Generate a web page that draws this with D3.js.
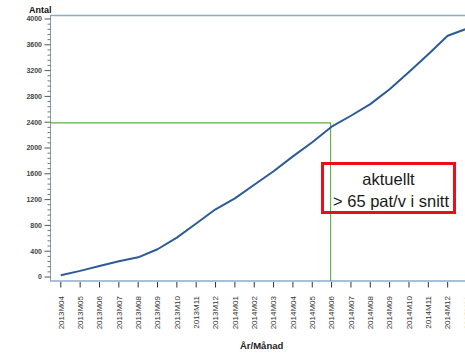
<!DOCTYPE html>
<html><head><meta charset="utf-8">
<script src="https://cdn.jsdelivr.net/npm/d3@7"></script>
<style>
html,body{margin:0;padding:0;background:#fff;}
svg{display:block;font-family:"Liberation Sans",Arial,sans-serif;}
</style></head><body>
<svg id="c" width="465" height="353"></svg>
<script>
const months = ["2013M04","2013M05","2013M06","2013M07","2013M08","2013M09","2013M10","2013M11","2013M12",
  "2014M01","2014M02","2014M03","2014M04","2014M05","2014M06","2014M07","2014M08","2014M09","2014M10","2014M11","2014M12","2015M01"];
const antal = [28,95,170,245,305,430,610,830,1050,1220,1430,1640,1870,2090,2330,2500,2680,2910,3180,3455,3740,3850];
const yTicks = [0,400,800,1200,1600,2000,2400,2800,3200,3600,4000];
const markerValue = 2390;
const markerMonth = "2014M06";
const noteLines = ["aktuellt","> 65 pat/v i snitt"];

const svg = d3.select("#c");
const x = d3.scalePoint().domain(months).range([60.8, 467]);
const y = d3.scaleLinear().domain([0,4000]).range([277, 19]);

// top frame line
svg.append("line").attr("x1",50.5).attr("x2",465).attr("y1",15.5).attr("y2",15.5)
  .attr("stroke","#8eaacb").attr("stroke-width",1.6);

// y axis
const ya = svg.append("g").attr("transform","translate(50.5,0)");
ya.append("line").attr("y1",15).attr("y2",281).attr("stroke","#8a9bb0").attr("stroke-width",1);
const minor = d3.range(0,4001,80).filter(v=>v%400!==0);
ya.selectAll("line.mi").data(minor).join("line").attr("class","mi")
  .attr("x1",-3).attr("x2",0).attr("y1",d=>y(d)).attr("y2",d=>y(d)).attr("stroke","#555").attr("stroke-width",0.8);
ya.selectAll("line.ma").data(yTicks).join("line").attr("class","ma")
  .attr("x1",-6).attr("x2",0).attr("y1",d=>y(d)).attr("y2",d=>y(d)).attr("stroke","#444").attr("stroke-width",0.9);
ya.selectAll("text").data(yTicks).join("text")
  .attr("x",-8.5).attr("y",d=>y(d)).attr("dy","0.35em").attr("text-anchor","end")
  .attr("font-size",7).attr("font-weight","bold").attr("fill","#444").text(d=>d);

svg.append("text").attr("x",29).attr("y",13).attr("font-size",9).attr("font-weight","bold")
  .attr("fill","#111").text("Antal");

// x axis
const xa = svg.append("g");
xa.append("line").attr("x1",50).attr("x2",465).attr("y1",281).attr("y2",281)
  .attr("stroke","#8eaacb").attr("stroke-width",1.4);
xa.selectAll("line.t").data(months).join("line").attr("class","t")
  .attr("x1",d=>x(d)).attr("x2",d=>x(d)).attr("y1",282).attr("y2",287.5)
  .attr("stroke","#333").attr("stroke-width",1);
xa.selectAll("text").data(months).join("text")
  .attr("transform",d=>`translate(${x(d)+2.8},296) rotate(-90)`)
  .attr("text-anchor","end").attr("font-size",8).attr("fill","#333").text(d=>d);

svg.append("text").attr("x",240).attr("y",349).attr("font-size",9.5).attr("font-weight","bold")
  .attr("fill","#222").text("År/Månad");

// green marker lines
const mx = x(markerMonth)-1;
svg.append("path")
  .attr("d",`M${50.5},${y(markerValue)}H${mx}V281`)
  .attr("fill","none").attr("stroke","#5cb040").attr("stroke-width",1.1);

// data line
const line = d3.line().x((d,i)=>x(months[i])).y(d=>y(d));
svg.append("path").datum(antal).attr("d",line).attr("fill","none")
  .attr("stroke","#2c5b96").attr("stroke-width",2).attr("stroke-linejoin","round");

// note box
svg.append("rect").attr("x",322.5).attr("y",163.5).attr("width",132).attr("height",49)
  .attr("fill","none").attr("stroke","#e8101a").attr("stroke-width",3);
svg.append("text").attr("x",388.5).attr("y",185).attr("text-anchor","middle")
  .attr("font-size",16.5).attr("fill","#1a1a1a").text(noteLines[0]);
svg.append("text").attr("x",391).attr("y",206.5).attr("text-anchor","middle")
  .attr("font-size",16.5).attr("fill","#1a1a1a").text(noteLines[1]);
</script>
</body></html>
